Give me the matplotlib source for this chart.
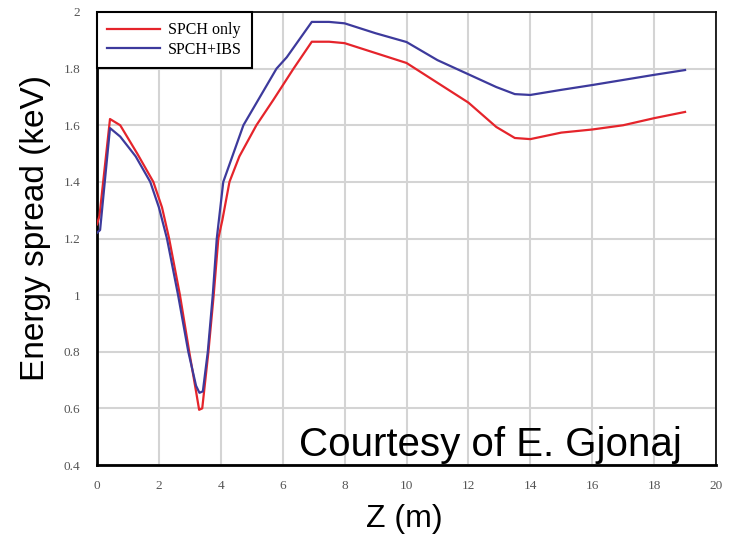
import matplotlib
matplotlib.use("Agg")
import matplotlib.pyplot as plt

# SPCH only (red)
z_spch = [0, 0.08, 0.42, 0.75, 1.3, 1.82, 2.1, 2.33, 2.68, 2.98, 3.2, 3.3, 3.4, 3.6, 3.77,
          3.92, 4.05, 4.28, 4.6, 5.15, 5.7, 6.35, 6.94, 7.5, 8.0, 9.0, 10.0, 11.0,
          12.0, 12.9, 13.5, 14.0, 15.0, 16.0, 17.0, 18.0, 19.0]
e_spch = [1.25, 1.28, 1.622, 1.60, 1.50, 1.40, 1.31, 1.2, 1.0, 0.8, 0.66, 0.595, 0.60, 0.8, 1.0,
          1.2, 1.265, 1.40, 1.49, 1.60, 1.69, 1.80, 1.895, 1.895, 1.89, 1.855, 1.82, 1.75,
          1.68, 1.594, 1.555, 1.551, 1.574, 1.585, 1.60, 1.625, 1.647]

# SPCH+IBS (blue)
z_ibs = [0, 0.1, 0.42, 0.75, 1.25, 1.72, 2.0, 2.26, 2.62, 2.95, 3.2, 3.31, 3.42, 3.58, 3.74,
         3.87, 4.08, 4.73, 5.8, 6.13, 6.94, 7.5, 8.0, 9.0, 10.0, 11.0, 12.0, 12.9,
         13.5, 14.0, 15.0, 16.0, 17.0, 18.0, 19.0]
e_ibs = [1.22, 1.23, 1.59, 1.56, 1.49, 1.40, 1.31, 1.2, 1.0, 0.8, 0.68, 0.655, 0.66, 0.8, 1.0,
         1.2, 1.4, 1.6, 1.8, 1.84, 1.965, 1.965, 1.96, 1.925, 1.894, 1.83, 1.78, 1.735,
         1.71, 1.707, 1.725, 1.742, 1.76, 1.778, 1.795]

xticks = [0, 2, 4, 6, 8, 10, 12, 14, 16, 18, 20]
yticks = [0.4, 0.6, 0.8, 1, 1.2, 1.4, 1.6, 1.8, 2]
ytick_labels = ["0.4", "0.6", "0.8", "1", "1.2", "1.4", "1.6", "1.8", "2"]

fig = plt.figure(figsize=(7.41, 5.36), dpi=100)
ax = fig.add_axes([97/741, 1-465/536, 619/741, 453/536])

ax.plot(z_spch, e_spch, color='#e5242b', lw=1.6, label='SPCH only', zorder=3)
ax.plot(z_ibs, e_ibs, color='#3d3a9c', lw=1.6, label='SPCH+IBS', zorder=3)

ax.set_xlim(0, 20)
ax.set_ylim(0.4, 2)
ax.set_xticks(xticks)
ax.set_yticks(yticks)
ax.set_yticklabels(ytick_labels)
ax.tick_params(length=0, labelsize=9.5, labelcolor='#555555')
ax.tick_params(axis='x', pad=11)
ax.tick_params(axis='y', pad=12)
for lab in ax.get_xticklabels() + ax.get_yticklabels():
    lab.set_family('Liberation Serif')

ax.grid(True, color='#d4d4d4', lw=1.5)
ax.set_axisbelow(True)
for s in ax.spines.values():
    s.set_color('black')
    s.set_linewidth(1.2)
ax.spines['left'].set_linewidth(2)
ax.spines['bottom'].set_linewidth(2)

leg = ax.legend(loc='upper left', bbox_to_anchor=(0, 1), borderaxespad=0,
                fancybox=False, framealpha=1, edgecolor='black',
                prop={'family': 'Liberation Serif', 'size': 11.5},
                handlelength=3.3, borderpad=0.65, labelspacing=0.2, handletextpad=0.5)
leg.get_frame().set_linewidth(1.5)

ax.set_xlabel('Z (m)', fontsize=23, family='Liberation Sans')
ax.set_ylabel('Energy spread (keV)', fontsize=24, family='Liberation Sans')
ax.xaxis.set_label_coords(0.497, -0.085)
ax.yaxis.set_label_coords(-0.075, 0.523)

ax.text(0.945, 0.002, 'Courtesy of E. Gjonaj', transform=ax.transAxes,
        ha='right', va='bottom', fontsize=29, family='Liberation Sans')

fig.savefig('out.png', dpi=100)
